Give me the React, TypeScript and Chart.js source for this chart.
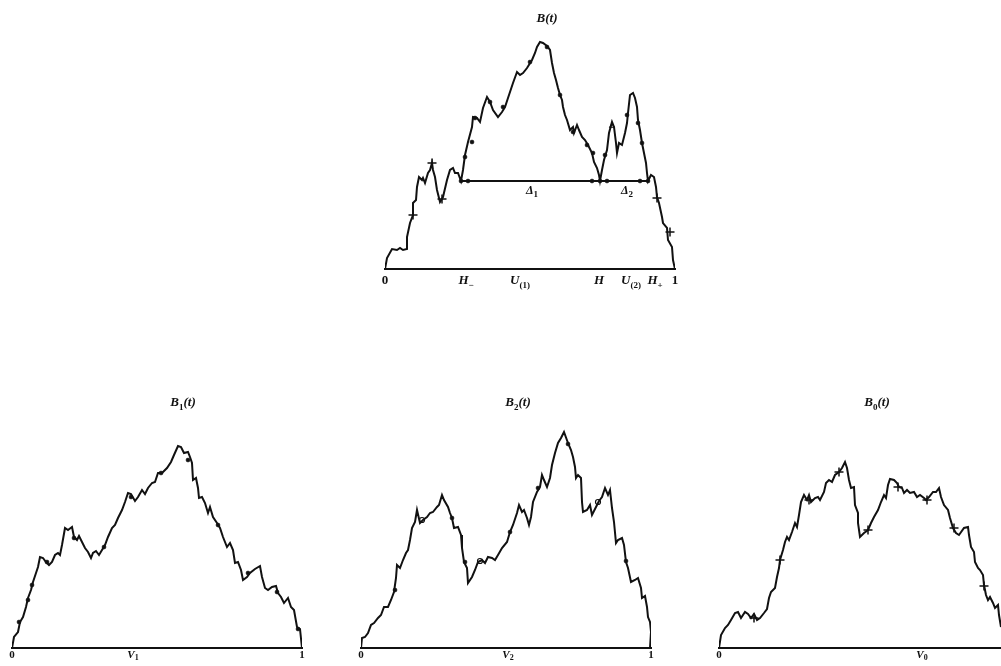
import React, { useEffect, useRef } from 'react';
import { Chart, registerables } from 'chart.js';

Chart.register(...registerables);

const INK = '#111111';
const SERIF = '"Liberation Serif", "DejaVu Serif", serif';
const X_MAX = 290;
const Y_MAX = 260;

// ---------- Top panel: B(t) ----------
const topT = [0,2,7,12,15,18,22,22,25,28,28,31,32,34,37,38,40,43,45,47,48,50,52,55,58,62,65,68,70,73,76,78,80,83,87,88,92,95,98,102,105,108,113,117,120,123,128,132,135,138,142,147,150,152,155,158,162,165,167,169,171,173,175,177,178,180,182,185,188,189,192,194,197,200,203,207,209,212,214,215,217,219,222,224,227,229,231,232,234,237,240,242,243,245,248,250,252,253,255,257,259,261,262,263,266,269,271,272,274,277,278,282,283,287,288,290];
const topV = [0,11,20,19,21,19,20,32,46,54,66,69,82,92,89,91,86,96,99,106,99,92,79,67,72,89,99,101,96,96,88,99,114,127,142,152,151,147,161,172,167,159,152,157,162,171,186,197,194,196,201,209,216,222,227,226,223,219,206,196,189,181,174,169,162,154,149,139,142,136,144,139,132,129,124,116,107,101,94,88,99,109,119,136,147,142,126,116,126,124,136,146,156,174,176,171,162,149,139,126,116,106,96,88,94,92,82,72,66,52,46,41,29,22,9,0];
const topLevelT = [76, 263];
const topLevelV = [88, 88];
const topLevelDotT = [76, 83, 207, 215, 222, 255, 263];
const topLevelDotV = [88, 88, 88, 88, 88, 88, 88];
const topDotT = [80, 87, 90, 105, 118, 145, 162, 175, 188, 202, 208, 220, 242, 253, 257];
const topDotV = [112, 127, 151, 167, 162, 207, 222, 174, 137, 124, 116, 114, 154, 146, 126];
const topCrossT = [28, 47, 57, 272, 285];
const topCrossV = [54, 106, 70, 71, 37];
const topTriT = [227];
const topTriV = [143];
const topTickT = [0, 81, 135, 214, 246, 270, 290];
const topTickLabels = ['0', 'H_{−}', 'U_{(1)}', 'H', 'U_{(2)}', 'H_{+}', '1'];

// ---------- Bottom left: B1(t) ----------
const b1T = [0,2,6,8,11,14,16,19,21,24,26,28,31,34,37,40,43,46,48,50,53,56,60,62,65,67,70,73,76,79,81,84,87,90,93,96,100,103,106,110,113,116,119,123,126,130,133,136,140,143,146,150,155,159,162,166,169,172,176,178,180,181,184,186,187,190,193,196,198,201,205,208,211,215,218,221,223,226,229,231,235,238,243,248,250,253,256,260,264,266,269,272,276,279,282,285,288,290];
const b1V = [0,11,16,26,31,41,50,58,66,75,81,91,90,86,83,86,93,95,93,103,120,118,121,111,108,112,106,100,96,90,95,97,93,98,103,111,120,123,130,138,146,155,154,147,151,158,154,160,165,166,175,175,180,186,193,202,201,195,196,191,185,168,170,160,150,151,145,135,141,131,125,120,111,101,105,98,85,86,78,68,71,75,79,82,71,60,58,61,62,55,51,45,50,41,38,21,19,0];
const b1DotT = [7, 16, 20, 35, 62, 92, 119, 149, 176, 206, 236, 265, 286];
const b1DotV = [26, 48, 63, 86, 110, 101, 151, 175, 188, 123, 75, 56, 19];
const b1TickT = [0, 121, 290];
const b1TickLabels = ['0', 'V_{1}', '1'];

// ---------- Bottom middle: B2(t) ----------
const b2T = [0,1,4,7,10,13,17,20,23,27,30,33,35,36,39,42,45,47,49,51,54,56,59,62,66,69,72,76,78,81,83,87,89,91,93,97,100,101,103,106,107,111,114,117,121,124,127,131,134,137,141,146,149,152,156,158,161,163,166,168,170,172,176,179,181,183,186,189,191,194,197,200,203,207,210,212,214,215,217,220,221,222,226,229,231,235,238,241,244,247,249,251,253,255,257,261,263,265,267,270,274,277,280,281,284,286,287,289,290,289];
const b2V = [0,10,11,15,23,25,30,33,41,41,48,56,70,83,80,88,95,98,108,120,126,138,125,128,131,135,136,141,143,153,148,141,135,130,120,121,113,100,86,80,65,71,78,86,88,85,91,90,88,93,100,106,116,123,135,143,136,138,130,123,131,146,156,161,173,168,161,170,183,195,205,210,216,205,198,191,181,170,173,170,146,136,138,143,133,141,147,151,160,153,158,140,126,105,108,110,103,86,80,66,68,70,60,50,52,41,31,26,16,0];
const b2DotT = [34, 91, 104, 149, 177, 207, 265];
const b2DotV = [58, 130, 86, 116, 160, 204, 87];
const b2OpenT = [61, 119, 237];
const b2OpenV = [128, 87, 146];
const b2TickT = [0, 147, 290];
const b2TickLabels = ['0', 'V_{2}', '1'];

// ---------- Bottom right: B0(t) ----------
const b0T = [0,2,6,9,12,16,19,22,26,29,32,35,38,41,45,48,50,52,56,58,60,61,64,66,68,70,73,76,78,80,82,85,88,90,92,96,99,101,105,107,110,113,116,120,123,126,128,130,132,135,136,139,139,141,145,149,152,155,159,162,165,167,169,171,175,178,180,183,185,188,191,195,198,201,205,207,210,214,217,220,222,225,229,231,234,237,240,245,249,250,252,255,256,259,261,264,265,267,269,271,274,276,279,280,282];
const b0V = [0,13,20,23,28,35,36,30,36,34,30,34,28,30,35,39,50,56,60,71,80,88,98,106,111,108,116,125,121,133,146,153,148,153,146,150,151,148,156,165,168,166,173,176,180,186,180,168,160,161,143,135,125,111,115,118,125,131,138,146,153,150,163,169,168,165,161,160,155,158,155,156,151,153,150,148,151,156,156,160,151,143,138,130,120,115,113,120,121,113,101,96,86,80,78,73,63,53,48,51,45,40,43,33,21];
const b0CrossT = [35, 61, 90, 120, 149, 179, 208, 235, 265];
const b0CrossV = [30, 88, 148, 176, 118, 161, 148, 120, 62];
const b0TickT = [0, 203];
const b0TickLabels = ['0', 'V_{0}'];

// ---------- dataset helpers ----------
const pts = (T: number[], V: number[]) => T.map((t, i) => ({ x: t, y: V[i] }));
const pathDs = (T: number[], V: number[]) => ({
  data: pts(T, V), borderColor: INK, borderWidth: 2, pointRadius: 0, tension: 0, fill: false,
});
const dotDs = (T: number[], V: number[]) => ({
  data: pts(T, V), showLine: false, pointRadius: 2, pointStyle: 'circle',
  pointBackgroundColor: INK, pointBorderColor: INK, pointBorderWidth: 0.5,
});
const openDs = (T: number[], V: number[], style = 'circle') => ({
  data: pts(T, V), showLine: false, pointRadius: 2.5, pointStyle: style,
  pointBackgroundColor: '#ffffff', pointBorderColor: INK, pointBorderWidth: 1.2,
});
const crossDs = (T: number[], V: number[]) => ({
  data: pts(T, V), showLine: false, pointRadius: 4.5, pointStyle: 'cross',
  pointBorderColor: INK, pointBorderWidth: 1.5,
});

// rich label: "U_{(1)}" -> U + subscript "(1)"
function parseRich(label: string) {
  const segs: { text: string; sub: boolean }[] = [];
  const re = /_\{([^}]*)\}|([^_]+)/g;
  let m: RegExpExecArray | null;
  while ((m = re.exec(label))) {
    if (m[1] !== undefined) segs.push({ text: m[1], sub: true });
    else segs.push({ text: m[2], sub: false });
  }
  return segs;
}

function drawRich(ctx: CanvasRenderingContext2D, label: string, cx: number, cy: number, size: number) {
  const segs = parseRich(label);
  const subSize = Math.round(size * 0.72);
  const fontOf = (s: { text: string; sub: boolean }) => {
    if (s.sub) return `bold ${subSize}px ${SERIF}`;
    const upright = /^[0-9]+$/.test(s.text);
    return `${upright ? '' : 'italic '}bold ${size}px ${SERIF}`;
  };
  const widths = segs.map((s) => { ctx.font = fontOf(s); return ctx.measureText(s.text).width; });
  const total = widths.reduce((a, b) => a + b, 0);
  let x = cx - total / 2;
  const base = cy + size * 0.34;
  segs.forEach((s, i) => {
    ctx.font = fontOf(s);
    ctx.fillText(s.text, x, s.sub ? base + size * 0.24 : base);
    x += widths[i];
  });
}

type TextItem = { text: string; x: number; y: number; size: number };

type PanelProps = {
  areaLeft: number;
  areaTop: number;
  datasets: any[];
  tickT: number[];
  tickLabels: string[];
  tickSize: number;
  tickOffset: number;
  texts: TextItem[];
};

const PAD = 20;
const AXIS_H = 24;

function Panel(props: PanelProps) {
  const ref = useRef<HTMLCanvasElement>(null);
  const W = X_MAX + 2 * PAD;
  const H = Y_MAX + AXIS_H;
  useEffect(() => {
    const { texts, tickT, tickLabels, tickSize, tickOffset } = props;
    const textPlugin = {
      id: 'panelTexts',
      afterDraw(chart: any) {
        const { ctx, scales } = chart;
        ctx.save();
        ctx.fillStyle = INK;
        ctx.textAlign = 'left';
        ctx.textBaseline = 'alphabetic';
        for (const t of texts) {
          drawRich(ctx, t.text, scales.x.getPixelForValue(t.x), scales.y.getPixelForValue(t.y), t.size);
        }
        const axisY = scales.y.getPixelForValue(0);
        tickT.forEach((v, i) => {
          drawRich(ctx, tickLabels[i], scales.x.getPixelForValue(v), axisY + tickOffset, tickSize);
        });
        ctx.restore();
      },
    };
    const chart = new Chart(ref.current as HTMLCanvasElement, {
      type: 'line',
      data: { datasets: props.datasets as any },
      options: {
        animation: false,
        responsive: false,
        devicePixelRatio: 1,
        events: [],
        layout: { autoPadding: false, padding: { left: PAD, right: PAD, top: 0, bottom: 0 } },
        plugins: { legend: { display: false }, tooltip: { enabled: false }, title: { display: false } },
        scales: {
          x: {
            type: 'linear',
            min: 0,
            max: X_MAX,
            grid: { display: false, drawTicks: false },
            border: { display: true, color: INK, width: 2 },
            afterFit: (s: any) => { s.height = AXIS_H; },
            ticks: { display: false },
          },
          y: { type: 'linear', min: 0, max: Y_MAX, display: false },
        },
      } as any,
      plugins: [textPlugin],
    });
    return () => chart.destroy();
  }, []);
  return (
    <canvas
      ref={ref}
      width={W}
      height={H}
      style={{ position: 'absolute', left: props.areaLeft - PAD, top: props.areaTop, width: W, height: H }}
    />
  );
}

export default function App() {
  return (
    <div style={{ position: 'absolute', left: 0, top: 0, width: 1001, height: 666, overflow: 'hidden', background: '#ffffff' }}>
      <Panel
        areaLeft={385}
        areaTop={9}
        datasets={[
          pathDs(topT, topV),
          pathDs(topLevelT, topLevelV),
          dotDs(topLevelDotT, topLevelDotV),
          dotDs(topDotT, topDotV),
          crossDs(topCrossT, topCrossV),
          openDs(topTriT, topTriV, 'triangle'),
        ]}
        tickT={topTickT}
        tickLabels={topTickLabels}
        tickSize={13}
        tickOffset={11}
        texts={[
          { text: 'B(t)', x: 162, y: 251, size: 13 },
          { text: 'Δ_{1}', x: 147, y: 79, size: 12 },
          { text: 'Δ_{2}', x: 242, y: 79, size: 12 },
        ]}
      />
      <Panel
        areaLeft={12}
        areaTop={388}
        datasets={[pathDs(b1T, b1V), dotDs(b1DotT, b1DotV)]}
        tickT={b1TickT}
        tickLabels={b1TickLabels}
        tickSize={11}
        tickOffset={6}
        texts={[{ text: 'B_{1}(t)', x: 171, y: 246, size: 13 }]}
      />
      <Panel
        areaLeft={361}
        areaTop={388}
        datasets={[pathDs(b2T, b2V), dotDs(b2DotT, b2DotV), openDs(b2OpenT, b2OpenV)]}
        tickT={b2TickT}
        tickLabels={b2TickLabels}
        tickSize={11}
        tickOffset={6}
        texts={[{ text: 'B_{2}(t)', x: 157, y: 246, size: 13 }]}
      />
      <Panel
        areaLeft={719}
        areaTop={388}
        datasets={[pathDs(b0T, b0V), crossDs(b0CrossT, b0CrossV)]}
        tickT={b0TickT}
        tickLabels={b0TickLabels}
        tickSize={11}
        tickOffset={6}
        texts={[{ text: 'B_{0}(t)', x: 158, y: 246, size: 13 }]}
      />
    </div>
  );
}
